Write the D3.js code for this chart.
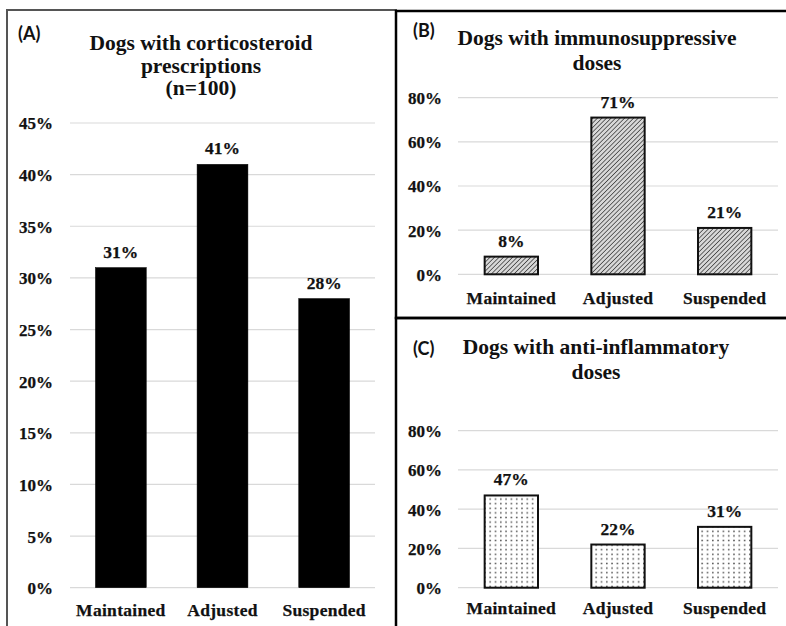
<!DOCTYPE html>
<html>
<head>
<meta charset="utf-8">
<script src="https://cdn.jsdelivr.net/npm/d3@7"></script>
<style>
  html, body { margin: 0; padding: 0; background: #fff; }
  svg { display: block; }
</style>
</head>
<body>
<svg id="chart" width="786" height="626"></svg>
<script>
// ---- data ----
const categories = ["Maintained", "Adjusted", "Suspended"];
const valuesA = [0.31, 0.41, 0.28];
const valuesB = [0.08, 0.71, 0.21];
const valuesC = [0.47, 0.22, 0.31];
const ticksA = [0, 0.05, 0.10, 0.15, 0.20, 0.25, 0.30, 0.35, 0.40, 0.45];
const ticksBC = [0, 0.2, 0.4, 0.6, 0.8];
const titleA = ["Dogs with corticosteroid", "prescriptions", "(n=100)"];
const titleB = ["Dogs with immunosuppressive", "doses"];
const titleC = ["Dogs with anti-inflammatory", "doses"];

const svg = d3.select("#chart");
const serif = "'Liberation Serif', 'Times New Roman', serif";
const sans = "Lato, 'Open Sans', sans-serif";

// patterns
const defs = svg.append("defs");
const hatch = defs.append("pattern").attr("id", "hatch")
  .attr("patternUnits", "userSpaceOnUse").attr("width", 3.2).attr("height", 3.2)
  .attr("patternTransform", "rotate(45)");
hatch.append("rect").attr("width", 3.2).attr("height", 3.2).attr("fill", "#d8d8d8");
hatch.append("line").attr("x1", 0).attr("y1", 0).attr("x2", 0).attr("y2", 3.2)
  .attr("stroke", "#333").attr("stroke-width", 1.4);
const dots = defs.append("pattern").attr("id", "dots")
  .attr("patternUnits", "userSpaceOnUse").attr("width", 5.3).attr("height", 4.6);
dots.append("rect").attr("width", 5.3).attr("height", 4.6).attr("fill", "#fff");
dots.append("circle").attr("cx", 2.6).attr("cy", 2.3).attr("r", 0.85).attr("fill", "#555");

// panel A frame
svg.append("rect").attr("x", 7).attr("y", 10).attr("width", 389).attr("height", 640)
  .attr("fill", "none").attr("stroke", "#555").attr("stroke-width", 2);

function panel(opts) {
  const g = svg.append("g");
  const x = d3.scaleBand().domain(categories).range(opts.xr)
    .paddingInner(0.5).paddingOuter(0.25);
  const y = d3.scaleLinear().domain(opts.yd).range(opts.yr);

  // gridlines
  g.selectAll("line.grid").data(opts.ticks).join("line")
    .attr("x1", opts.xr[0]).attr("x2", opts.xr[1])
    .attr("y1", d => y(d)).attr("y2", d => y(d))
    .attr("stroke", "#d9d9d9").attr("stroke-width", 1.2);

  // y axis labels
  const yAxis = d3.axisLeft(y).tickValues(opts.ticks)
    .tickFormat(d3.format(".0%")).tickSize(0).tickPadding(0);
  const ya = g.append("g").attr("transform", `translate(${opts.ylabX},0)`).call(yAxis);
  ya.attr("font-family", null).attr("font-size", null);
  ya.select(".domain").remove();
  ya.selectAll("text")
    .style("font-family", serif).style("font-weight", "bold")
    .style("font-size", opts.tickSize + "px").attr("fill", "#111").attr("dy", "0.35em")
    .attr("stroke", "#111").attr("stroke-width", 0.25);

  // x axis labels
  const xAxis = d3.axisBottom(x).tickSize(0).tickPadding(0);
  const xa = g.append("g").attr("transform", `translate(0,${opts.xlabY})`).call(xAxis);
  xa.attr("font-family", null).attr("font-size", null);
  xa.select(".domain").remove();
  xa.selectAll("text")
    .style("font-family", serif).style("font-weight", "bold")
    .style("font-size", "17.5px").attr("fill", "#111").attr("dy", "0.35em")
    .style("letter-spacing", "0.3px")
    .attr("stroke", "#111").attr("stroke-width", 0.25);

  // bars
  g.selectAll("rect.bar").data(opts.values).join("rect")
    .attr("x", (d, i) => x(categories[i]))
    .attr("width", x.bandwidth())
    .attr("y", d => y(d))
    .attr("height", d => y(0) - y(d))
    .attr("fill", opts.fill)
    .attr("stroke", opts.stroke).attr("stroke-width", opts.strokeW);

  // value labels
  g.selectAll("text.val").data(opts.values).join("text")
    .attr("x", (d, i) => x(categories[i]) + x.bandwidth() / 2)
    .attr("y", d => y(d) - 10)
    .attr("text-anchor", "middle")
    .style("font-family", serif).style("font-weight", "bold").style("font-size", "17.5px")
    .attr("fill", "#111").attr("stroke", "#111").attr("stroke-width", 0.25)
    .text(d => d3.format(".0%")(d));

  // title
  g.selectAll("text.title").data(opts.title).join("text")
    .attr("x", opts.titleX).attr("y", (d, i) => opts.titleY + i * opts.titleLH)
    .attr("text-anchor", "middle")
    .style("font-family", serif).style("font-weight", "bold").style("font-size", "21.5px")
    .attr("fill", "#111").text(d => d);

  // panel letter
  g.append("text").attr("x", opts.letterX).attr("y", opts.letterY)
    .style("font-family", sans).style("font-weight", "bold").style("font-size", "18px")
    .attr("fill", "#111").text(opts.letter);
}

panel({
  xr: [70, 375], yd: [0, 0.45], yr: [587.7, 123], ticks: ticksA, values: valuesA,
  ylabX: 53, xlabY: 610, tickSize: 17,
  fill: "#000", stroke: "#000", strokeW: 0.5,
  title: titleA, titleX: 201, titleY: 50, titleLH: 22.5,
  letter: "(A)", letterX: 18, letterY: 40
});

panel({
  xr: [458, 778], yd: [0, 0.8], yr: [274.3, 97.7], ticks: ticksBC, values: valuesB,
  ylabX: 442, xlabY: 298, tickSize: 17,
  fill: "url(#hatch)", stroke: "#111", strokeW: 2,
  title: titleB, titleX: 597, titleY: 45, titleLH: 25,
  letter: "(B)", letterX: 413, letterY: 37
});

panel({
  xr: [458, 778], yd: [0, 0.8], yr: [587.7, 430.7], ticks: ticksBC, values: valuesC,
  ylabX: 442, xlabY: 608, tickSize: 17,
  fill: "url(#dots)", stroke: "#111", strokeW: 2,
  title: titleC, titleX: 596, titleY: 354, titleLH: 25,
  letter: "(C)", letterX: 413, letterY: 355
});

// B and C frames (thick black)
svg.append("rect").attr("x", 396).attr("y", 11).attr("width", 400).attr("height", 307)
  .attr("fill", "none").attr("stroke", "#000").attr("stroke-width", 2.5);
svg.append("rect").attr("x", 396).attr("y", 318).attr("width", 400).attr("height", 330)
  .attr("fill", "none").attr("stroke", "#000").attr("stroke-width", 2.5);
</script>
</body>
</html>
